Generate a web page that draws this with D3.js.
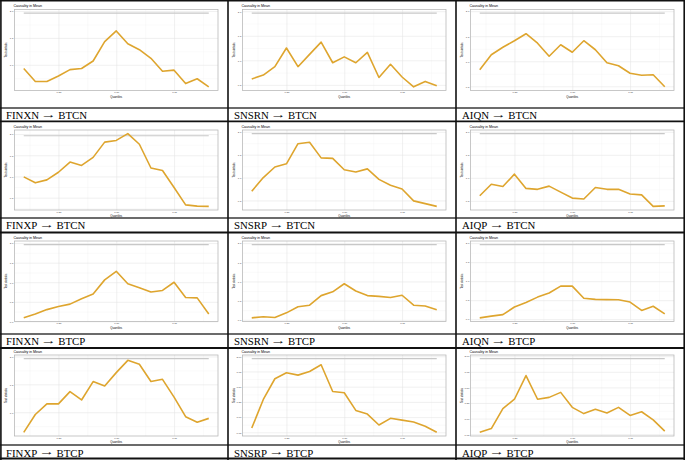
<!DOCTYPE html>
<html lang="en">
<head>
<meta charset="UTF-8">
<title>Causality in Mean - quantile test statistics</title>
<script src="https://d3js.org/d3.v7.min.js"></script>
<style>
  body { margin: 0; background: #fff; }
  svg { display: block; }
  .caption { font-family: "Liberation Serif", "Times New Roman", serif; font-size: 10.8px; fill: #000; }
  .ptitle { font-family: "Liberation Sans", Arial, sans-serif; font-size: 3.6px; fill: #000; }
  .axis-title { font-family: "Liberation Sans", Arial, sans-serif; font-size: 2.8px; fill: #000; }
</style>
</head>
<body>
<svg id="chart" width="685" height="460"></svg>
<script>
// quantiles tested and the 5% critical value
const quantiles = [0.10, 0.15, 0.20, 0.25, 0.30, 0.35, 0.40, 0.45, 0.50, 0.55, 0.60, 0.65, 0.70, 0.75, 0.80, 0.85, 0.90];
const criticalValue = 1.96;
const xTicks = [0.25, 0.50, 0.75];
const yTicksHalf = [0, 0.5, 1.0, 1.5, 2.0];
const yTicksQuarter = [0.75, 1.00, 1.25, 1.50, 1.75, 2.00];

// test statistics
const finxnBtcn = [0.93, 0.69, 0.69, 0.79, 0.91, 0.93, 1.07, 1.43, 1.63, 1.39, 1.28, 1.12, 0.88, 0.90, 0.65, 0.74, 0.59];
const snsrnBtcn = [0.62, 0.70, 0.87, 1.25, 0.87, 1.12, 1.37, 0.95, 1.07, 0.95, 1.16, 0.65, 0.92, 0.66, 0.46, 0.57, 0.48];
const aiqnBtcn  = [0.83, 1.13, 1.28, 1.41, 1.55, 1.36, 1.10, 1.33, 1.18, 1.41, 1.23, 0.97, 0.91, 0.76, 0.72, 0.73, 0.49];
const finxpBtcn = [0.99, 0.85, 0.92, 1.10, 1.34, 1.26, 1.45, 1.81, 1.85, 2.01, 1.76, 1.20, 1.14, 0.74, 0.33, 0.30, 0.295];
const snsrpBtcn = [0.70, 1.00, 1.23, 1.30, 1.74, 1.77, 1.43, 1.42, 1.17, 1.12, 1.19, 0.96, 0.83, 0.75, 0.49, 0.43, 0.37];
const aiqpBtcn  = [0.61, 0.86, 0.81, 1.08, 0.77, 0.75, 0.82, 0.69, 0.56, 0.54, 0.79, 0.75, 0.75, 0.65, 0.63, 0.38, 0.39];
const finxnBtcp = [0.09, 0.19, 0.30, 0.38, 0.44, 0.58, 0.70, 1.06, 1.28, 0.96, 0.86, 0.75, 0.79, 1.00, 0.61, 0.60, 0.19];
const snsrnBtcp = [0.05, 0.08, 0.06, 0.18, 0.34, 0.38, 0.63, 0.73, 0.94, 0.75, 0.63, 0.61, 0.58, 0.64, 0.38, 0.36, 0.26];
const aiqnBtcp  = [0.035, 0.08, 0.12, 0.32, 0.44, 0.58, 0.69, 0.87, 0.87, 0.55, 0.52, 0.515, 0.51, 0.45, 0.23, 0.34, 0.14];
const finxpBtcp = [0.64, 0.96, 1.15, 1.15, 1.37, 1.22, 1.55, 1.47, 1.71, 1.93, 1.86, 1.55, 1.59, 1.27, 0.92, 0.82, 0.89];
const snsrpBtcp = [0.82, 1.29, 1.63, 1.73, 1.69, 1.75, 1.86, 1.42, 1.40, 1.11, 1.05, 0.87, 0.98, 0.95, 0.92, 0.85, 0.75];
const aiqpBtcp  = [0.78, 0.84, 1.16, 1.31, 1.69, 1.31, 1.34, 1.42, 1.18, 1.08, 1.15, 1.09, 1.18, 1.05, 1.11, 0.98, 0.80];

const captions = [
  "FINXN → BTCN", "SNSRN → BTCN", "AIQN → BTCN",
  "FINXP → BTCN", "SNSRP → BTCN", "AIQP → BTCN",
  "FINXN → BTCP", "SNSRN → BTCP", "AIQN → BTCP",
  "FINXP → BTCP", "SNSRP → BTCP", "AIQP → BTCP"
];

const panels = [
  { values: finxnBtcn, ticks: yTicksHalf }, { values: snsrnBtcn, ticks: yTicksHalf }, { values: aiqnBtcn, ticks: yTicksHalf },
  { values: finxpBtcn, ticks: yTicksHalf }, { values: snsrpBtcn, ticks: yTicksHalf }, { values: aiqpBtcn, ticks: yTicksHalf },
  { values: finxnBtcp, ticks: yTicksHalf }, { values: snsrnBtcp, ticks: yTicksHalf }, { values: aiqnBtcp, ticks: yTicksHalf },
  { values: finxpBtcp, ticks: yTicksHalf }, { values: snsrpBtcp, ticks: yTicksQuarter }, { values: aiqpBtcp, ticks: yTicksQuarter }
].map((p, i) => ({ ...p, caption: captions[i] }));

// table layout
const colLeft = [0, 228, 456];
const rows = [
  { plotTop: 9.5, plotBottom: 90.5, capLine: 108, bottom: 121.3, baseline: 119 },
  { plotTop: 130, plotBottom: 210, capLine: 218, bottom: 232.5, baseline: 229 },
  { plotTop: 241, plotBottom: 321.5, capLine: 334, bottom: 348, baseline: 345 },
  { plotTop: 355, plotBottom: 436, capLine: 445, bottom: 458.5, baseline: 456.5 }
];

const svg = d3.select("#chart");
svg.append("rect").attr("width", 685).attr("height", 460).attr("fill", "#fff");

const lineColor = "#dea52e";
const sans = "'Liberation Sans', Arial, sans-serif";

function expand(ext) {
  const pad = (ext[1] - ext[0]) * 0.05;
  return [ext[0] - pad, ext[1] + pad];
}

function drawCaption(text, left, baseline) {
  const parts = text.split(" → ");
  const a = svg.append("text").attr("class", "caption").attr("x", left + 6).attr("y", baseline).text(parts[0]);
  const ax = left + 6 + a.node().getComputedTextLength() + 1.8;
  // long arrow, stretched sideways like the original typesetting
  const arrow = svg.append("text").attr("class", "caption")
    .attr("font-family", "'Liberation Serif', 'DejaVu Serif', serif")
    .attr("transform", `translate(${ax},${baseline - 1.2}) scale(1.45,1)`).text("→");
  const aw = arrow.node().getComputedTextLength() * 1.45;
  svg.append("text").attr("class", "caption").attr("x", ax + aw + 1.8).attr("y", baseline).text(parts[1]);
}

function drawPanel(p, i) {
  const r = rows[Math.floor(i / 3)];
  const left = colLeft[i % 3];
  const x0 = left + 14.5, x1 = left + 218;

  const x = d3.scaleLinear().domain(expand(d3.extent(quantiles))).range([x0, x1]);
  const y = d3.scaleLinear().domain(expand(d3.extent(p.values.concat([criticalValue])))).range([r.plotBottom, r.plotTop]);

  const yd = y.domain();
  const yMajor = p.ticks.filter(t => t >= yd[0] && t <= yd[1]);
  const step = p.ticks[1] - p.ticks[0];
  const yMinor = d3.range(p.ticks[0] - step / 2, p.ticks[p.ticks.length - 1] + step, step).filter(t => t >= yd[0] && t <= yd[1]);
  const xMinor = [0.125, 0.375, 0.625, 0.875];

  const g = svg.append("g");
  const w = x1 - x0, h = r.plotBottom - r.plotTop;

  // grid
  g.append("g").attr("transform", `translate(${x0},0)`)
    .call(d3.axisLeft(y).tickValues(yMinor).tickSize(-w).tickFormat(""))
    .call(s => s.select(".domain").remove())
    .call(s => s.selectAll("line").attr("stroke", "#efefef").attr("stroke-width", 0.3));
  g.append("g").attr("transform", `translate(0,${r.plotBottom})`)
    .call(d3.axisBottom(x).tickValues(xMinor).tickSize(-h).tickFormat(""))
    .call(s => s.select(".domain").remove())
    .call(s => s.selectAll("line").attr("stroke", "#efefef").attr("stroke-width", 0.3));
  g.append("g").attr("transform", `translate(${x0},0)`)
    .call(d3.axisLeft(y).tickValues(yMajor).tickSize(-w).tickFormat(""))
    .call(s => s.select(".domain").remove())
    .call(s => s.selectAll("line").attr("stroke", "#e4e4e4").attr("stroke-width", 0.55));
  g.append("g").attr("transform", `translate(0,${r.plotBottom})`)
    .call(d3.axisBottom(x).tickValues(xTicks).tickSize(-h).tickFormat(""))
    .call(s => s.select(".domain").remove())
    .call(s => s.selectAll("line").attr("stroke", "#e4e4e4").attr("stroke-width", 0.55));

  // critical value line
  g.append("path")
    .datum(quantiles)
    .attr("fill", "none")
    .attr("stroke", "#c8c8c8")
    .attr("stroke-width", 1.2)
    .attr("d", d3.line().x(d => x(d)).y(() => y(criticalValue)));

  // test statistic line
  g.append("path")
    .datum(p.values)
    .attr("fill", "none")
    .attr("stroke", lineColor)
    .attr("stroke-width", 1.6)
    .attr("stroke-linejoin", "round")
    .attr("d", d3.line().x((d, k) => x(quantiles[k])).y(d => y(d)));

  // panel border
  g.append("rect")
    .attr("x", x0).attr("y", r.plotTop).attr("width", w).attr("height", h)
    .attr("fill", "none").attr("stroke", "#b5b5b5").attr("stroke-width", 0.75);

  // axes labels
  const fmt = step < 0.5 ? d3.format(".2f") : d3.format(".1f");
  g.append("g").attr("transform", `translate(${x0},0)`)
    .call(d3.axisLeft(y).tickValues(yMajor).tickSize(0).tickPadding(1.2).tickFormat(fmt))
    .call(s => s.select(".domain").remove())
    .attr("font-size", 2.5).attr("font-family", sans)
    .call(s => s.selectAll("text").attr("fill", "#4d4d4d"));
  g.append("g").attr("transform", `translate(0,${r.plotBottom})`)
    .call(d3.axisBottom(x).tickValues(xTicks).tickSize(0).tickPadding(1.2).tickFormat(d3.format(".2f")))
    .call(s => s.select(".domain").remove())
    .attr("font-size", 2.5).attr("font-family", sans)
    .call(s => s.selectAll("text").attr("fill", "#4d4d4d"));

  g.append("text").attr("class", "axis-title")
    .attr("x", (x0 + x1) / 2).attr("y", r.plotBottom + 7.3)
    .attr("text-anchor", "middle").text("Quantiles");
  g.append("text").attr("class", "axis-title")
    .attr("transform", `translate(${left + 7.2},${(r.plotTop + r.plotBottom) / 2}) rotate(-90)`)
    .attr("text-anchor", "middle").text("Test statistic");
  g.append("text").attr("class", "ptitle")
    .attr("x", x0 - 1).attr("y", r.plotTop - 2.2).text("Causality in Mean");

  drawCaption(p.caption, left, r.baseline);
}

panels.forEach(drawPanel);

// table rules
const rules = svg.append("g");
rows.forEach(r => {
  rules.append("line").attr("x1", 0).attr("x2", 685).attr("y1", r.capLine).attr("y2", r.capLine)
    .attr("stroke", "#3a3a3a").attr("stroke-width", 1.6);
  rules.append("line").attr("x1", 0).attr("x2", 685).attr("y1", r.bottom).attr("y2", r.bottom)
    .attr("stroke", "#111").attr("stroke-width", 1.8);
});
rules.append("line").attr("x1", 0).attr("x2", 685).attr("y1", 0.8).attr("y2", 0.8)
  .attr("stroke", "#111").attr("stroke-width", 1.6);
[0.9, 228, 456, 684.2].forEach(xv => {
  rules.append("line").attr("x1", xv).attr("x2", xv).attr("y1", 0).attr("y2", 460)
    .attr("stroke", "#111").attr("stroke-width", 1.6);
});
</script>
</body>
</html>
